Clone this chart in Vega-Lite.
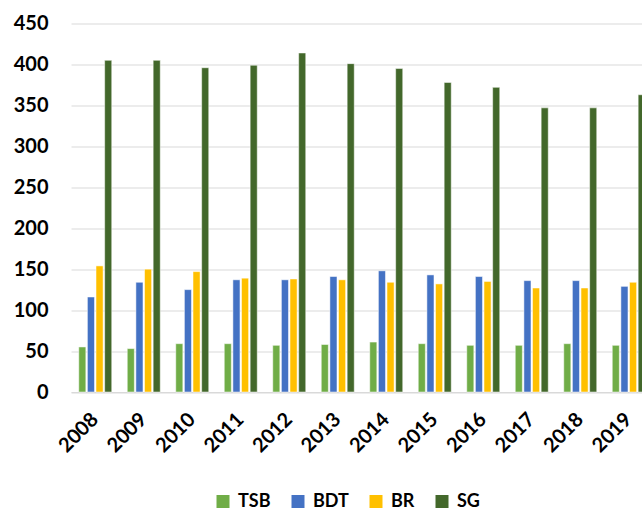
{
  "$schema": "https://vega.github.io/schema/vega-lite/v6.json",
  "autosize": {"type": "none"},
  "width": 582,
  "height": 368.5,
  "padding": {"left": 71, "top": 23.5, "right": 0, "bottom": 121},
  "background": "white",
  "config": {
    "font": "Lato",
    "view": {"stroke": null}
  },
  "data": {
    "values": [
      {"year": "2008", "series": "TSB", "value": 55},
      {"year": "2008", "series": "BDT", "value": 116},
      {"year": "2008", "series": "BR", "value": 154},
      {"year": "2008", "series": "SG", "value": 405},
      {"year": "2009", "series": "TSB", "value": 53},
      {"year": "2009", "series": "BDT", "value": 134},
      {"year": "2009", "series": "BR", "value": 150},
      {"year": "2009", "series": "SG", "value": 405},
      {"year": "2010", "series": "TSB", "value": 59},
      {"year": "2010", "series": "BDT", "value": 125},
      {"year": "2010", "series": "BR", "value": 147},
      {"year": "2010", "series": "SG", "value": 396},
      {"year": "2011", "series": "TSB", "value": 59},
      {"year": "2011", "series": "BDT", "value": 137},
      {"year": "2011", "series": "BR", "value": 139},
      {"year": "2011", "series": "SG", "value": 399},
      {"year": "2012", "series": "TSB", "value": 57},
      {"year": "2012", "series": "BDT", "value": 137},
      {"year": "2012", "series": "BR", "value": 138},
      {"year": "2012", "series": "SG", "value": 414},
      {"year": "2013", "series": "TSB", "value": 58},
      {"year": "2013", "series": "BDT", "value": 141},
      {"year": "2013", "series": "BR", "value": 137},
      {"year": "2013", "series": "SG", "value": 401},
      {"year": "2014", "series": "TSB", "value": 61},
      {"year": "2014", "series": "BDT", "value": 148},
      {"year": "2014", "series": "BR", "value": 134},
      {"year": "2014", "series": "SG", "value": 395},
      {"year": "2015", "series": "TSB", "value": 59},
      {"year": "2015", "series": "BDT", "value": 143},
      {"year": "2015", "series": "BR", "value": 132},
      {"year": "2015", "series": "SG", "value": 378},
      {"year": "2016", "series": "TSB", "value": 57},
      {"year": "2016", "series": "BDT", "value": 141},
      {"year": "2016", "series": "BR", "value": 135},
      {"year": "2016", "series": "SG", "value": 372},
      {"year": "2017", "series": "TSB", "value": 57},
      {"year": "2017", "series": "BDT", "value": 136},
      {"year": "2017", "series": "BR", "value": 127},
      {"year": "2017", "series": "SG", "value": 347},
      {"year": "2018", "series": "TSB", "value": 59},
      {"year": "2018", "series": "BDT", "value": 136},
      {"year": "2018", "series": "BR", "value": 127},
      {"year": "2018", "series": "SG", "value": 347},
      {"year": "2019", "series": "TSB", "value": 57},
      {"year": "2019", "series": "BDT", "value": 129},
      {"year": "2019", "series": "BR", "value": 134},
      {"year": "2019", "series": "SG", "value": 363}
    ]
  },
  "mark": {"type": "bar", "stroke": "white", "strokeWidth": 0.5},
  "encoding": {
    "x": {
      "field": "year",
      "type": "nominal",
      "scale": {"paddingInner": 0.32, "paddingOuter": 0.16},
      "axis": {
        "title": null,
        "labelAngle": -45,
        "labelAlign": "right",
        "labelBaseline": "middle",
        "labelFontSize": 20,
        "labelFontWeight": "bold",
        "labelColor": "black",
        "labelPadding": 24,
        "ticks": false,
        "domainColor": "#D9D9D9",
        "domainWidth": 1.2
      }
    },
    "xOffset": {
      "field": "series",
      "type": "nominal",
      "sort": ["TSB", "BDT", "BR", "SG"],
      "scale": {"paddingInner": 0.18}
    },
    "y": {
      "field": "value",
      "type": "quantitative",
      "scale": {"domain": [0, 450]},
      "axis": {
        "title": null,
        "values": [0, 50, 100, 150, 200, 250, 300, 350, 400, 450],
        "labelFontSize": 20,
        "labelFontWeight": "bold",
        "labelColor": "black",
        "labelPadding": 23,
        "ticks": false,
        "domain": false,
        "gridColor": "#D9D9D9",
        "gridWidth": 1.2
      }
    },
    "color": {
      "field": "series",
      "type": "nominal",
      "sort": ["TSB", "BDT", "BR", "SG"],
      "scale": {
        "domain": ["TSB", "BDT", "BR", "SG"],
        "range": ["#70AD47", "#4472C4", "#FFC000", "#43682B"]
      },
      "legend": {
        "title": null,
        "orient": "none",
        "direction": "horizontal",
        "legendX": 143,
        "legendY": 469,
        "symbolType": "square",
        "symbolSize": 169,
        "symbolStrokeWidth": 0,
        "labelFontSize": 18,
        "labelFontWeight": "bold",
        "labelColor": "black",
        "columnPadding": 18,
        "labelOffset": 6
      }
    }
  }
}
